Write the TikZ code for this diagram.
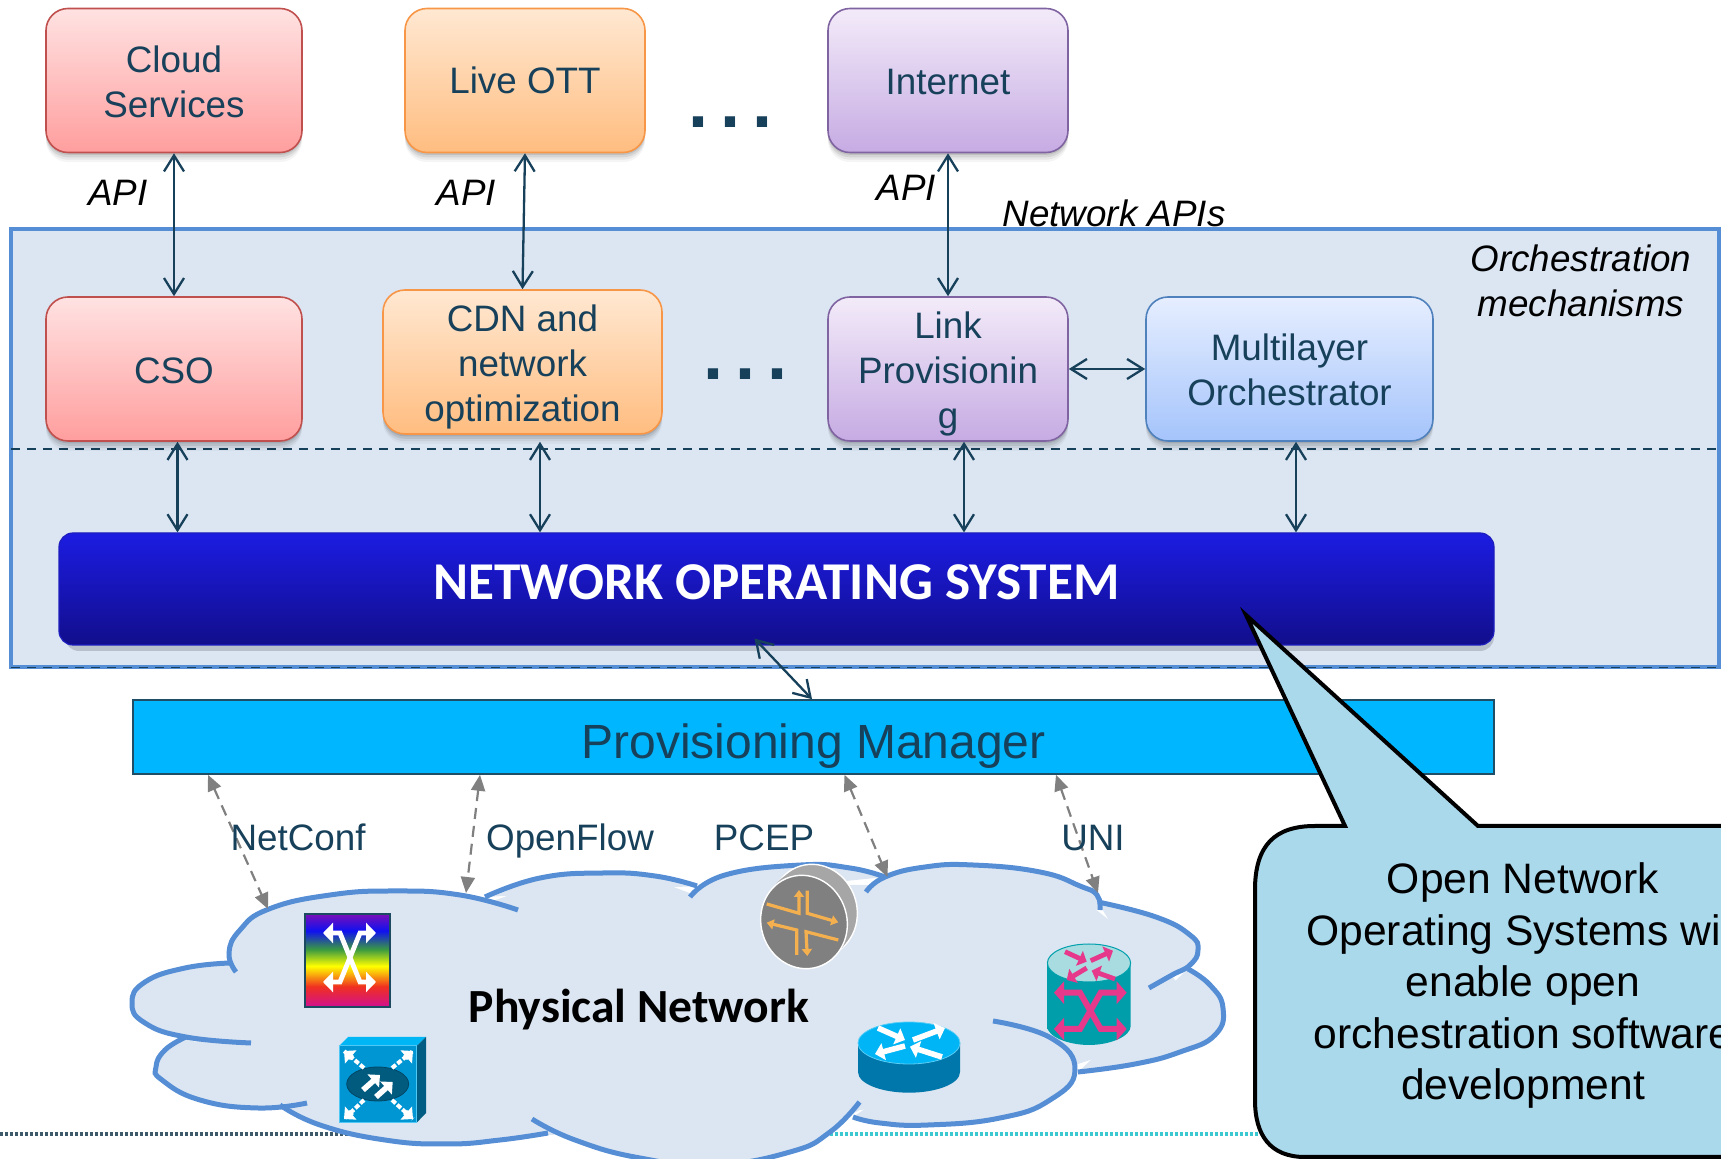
\documentclass[tikz,border=0pt]{standalone}
\usepackage{fontspec}
\setmainfont{Liberation Sans}
\newfontfamily\calib{Carlito}
\usetikzlibrary{arrows.meta,shadows,calc}
\definecolor{ink}{HTML}{17405A}
\definecolor{panel}{HTML}{DCE6F2}
\definecolor{edge}{HTML}{558ED5}
\definecolor{rbA}{HTML}{7A0FB8}
\definecolor{rbB}{HTML}{1010F0}
\definecolor{rbC}{HTML}{3A9A40}
\definecolor{rbD}{HTML}{FFFF00}
\definecolor{rbE}{HTML}{F03020}
\definecolor{rbF}{HTML}{D01090}
\definecolor{pinkish}{HTML}{E6398C}
\definecolor{amber}{HTML}{F4B04F}
\definecolor{redE}{HTML}{C0504D}\definecolor{redT}{HTML}{FFE2E2}\definecolor{redB}{HTML}{FF9E9E}
\definecolor{orE}{HTML}{F79646}\definecolor{orT}{HTML}{FFE8D2}\definecolor{orB}{HTML}{FFBD80}
\definecolor{puE}{HTML}{8064A2}\definecolor{puT}{HTML}{F3EBF9}\definecolor{puB}{HTML}{C6ABE3}
\definecolor{blE}{HTML}{4F81BD}\definecolor{blT}{HTML}{E6EEFF}\definecolor{blB}{HTML}{A5C4FB}
\definecolor{nosE}{HTML}{1E1EBE}\definecolor{nosT}{HTML}{1C1CE2}\definecolor{nosB}{HTML}{120E8C}
\definecolor{nosS}{HTML}{B8C0CC}
\definecolor{pmF}{HTML}{00B7FF}\definecolor{pmE}{HTML}{1F4E66}
\definecolor{dotL}{HTML}{3E5A6A}\definecolor{dotR}{HTML}{3CC8D0}
\definecolor{rbEdge}{HTML}{1C4A60}
\definecolor{boxTop}{HTML}{00B6F5}\definecolor{boxSide}{HTML}{005C82}\definecolor{boxFront}{HTML}{0096D4}\definecolor{boxRim}{HTML}{50C8F5}
\definecolor{boxOval}{HTML}{005B7F}\definecolor{boxOvalE}{HTML}{004664}
\definecolor{discB}{HTML}{A6A6A6}\definecolor{discF}{HTML}{808080}
\definecolor{rtBody}{HTML}{0077AA}\definecolor{rtTop}{HTML}{00B5F5}\definecolor{rtRim}{HTML}{5ACDF5}
\definecolor{tealD}{HTML}{009EAA}\definecolor{tealL}{HTML}{A8DCE0}\definecolor{tealE}{HTML}{00A0AC}
\definecolor{callF}{HTML}{ABD9EC}
\pgfdeclareverticalshading{rainbowshade}{100bp}{color(0bp)=(rbF);color(25bp)=(rbF);color(36bp)=(rbE);color(47bp)=(rbD);color(56bp)=(rbC);color(66bp)=(rbB);color(75bp)=(rbA);color(100bp)=(rbA)}
\newcommand{\topgap}[1]{\rule{0pt}{#1pt}}
\tikzset{
  x=0.5pt,y=-0.5pt,
  softshadow/.style={
    drop shadow={shadow xshift=0pt,shadow yshift=-1.2pt,opacity=.10,fill=black},
    drop shadow={shadow xshift=0pt,shadow yshift=-2.4pt,opacity=.08,fill=black},
    drop shadow={shadow xshift=0pt,shadow yshift=-3.6pt,opacity=.06,fill=black},
    drop shadow={shadow xshift=0pt,shadow yshift=-4.8pt,opacity=.04,fill=black}},
  appbox/.style={rounded corners=11pt,line width=.8pt,minimum width=#1,minimum height=72pt,inner sep=0pt,align=center,text=ink,softshadow,
     font=\fontsize{18.4}{22.5}\selectfont},
  redbox/.style={appbox=128pt,draw=redE,top color=redT,bottom color=redB},
  orangebox/.style={appbox=#1,draw=orE,top color=orT,bottom color=orB},
  purplebox/.style={appbox=120pt,draw=puE,top color=puT,bottom color=puB},
  bluebox/.style={appbox=143.5pt,draw=blE,top color=blT,bottom color=blB},
  dbl/.style={{Straight Barb[length=8pt,width=10pt]}-{Straight Barb[length=8pt,width=10pt]},draw=ink,line width=1.15pt},
  ctl/.style={{Triangle[length=8pt,width=7pt]}-{Triangle[length=8pt,width=7pt]},draw=gray,line width=1.1pt,dash pattern=on 5.5pt off 3.5pt},
  lab/.style={text=ink,inner sep=0pt,anchor=base,font=\fontsize{18.4}{22.5}\selectfont},
  ital/.style={text=black,inner sep=0pt,align=center,font=\fontsize{18.4}{22.5}\selectfont\itshape},
  dots/.style={text=ink,inner sep=0pt,anchor=base,font=\fontsize{36}{36}\selectfont\bfseries},
  cloudfill/.style={fill=panel,draw=none},
  cloudline/.style={draw=edge,line width=2.5pt,fill=none},
  whitex/.style={draw=white,line width=2.4pt,{Triangle[length=5pt,width=10pt]}-{Triangle[length=5pt,width=10pt]}},
  pinkx/.style={draw=pinkish,line width=3pt,{Triangle[length=5pt,width=11pt]}-{Triangle[length=5pt,width=11pt]}},
  minipink/.style={draw=pinkish,line width=2.4pt,-{Triangle[length=4pt,width=8pt]}},
  miniwhite/.style={draw=white,line width=2.8pt,-{Triangle[length=4.5pt,width=8.5pt]}},
  miniorange/.style={draw=amber,line width=1.6pt,-{Triangle[length=3.5pt,width=5pt]}},
}
\newcommand{\lobes}[1]{%
  \path[#1] plot[smooth,tension=.8] coordinates {(236,972)(229,953)(240,930)(269,909)(330,895)(395,891)(460,895)(518,910)};
  \path[#1] plot[smooth,tension=.8] coordinates {(485,897)(540,878)(603,873)(655,876)(697,886)};
  \path[#1] plot[smooth,tension=.8] coordinates {(690,897)(725,875)(801,865)(850,868)(885,877)};
  \path[#1] plot[smooth,tension=.8] coordinates {(866,892)(885,877)(925,867)(973,865)(1040,872)(1080,886)(1097,895)(1100,910)};
  \path[#1] plot[smooth,tension=.8] coordinates {(1098,902)(1156,917)(1190,935)(1198,950)(1190,965)(1172,975)(1149,988)};
  \path[#1] plot[smooth,tension=.8] coordinates {(1188,969)(1210,985)(1223,1008)(1215,1035)(1180,1052)(1135,1064)(1078,1072)};
  \path[#1] plot[smooth,tension=.8] coordinates {(993,1021)(1051,1038)(1075,1070)(1050,1100)(1000,1118)(928,1125)(880,1123)(853,1117)};
  \path[#1] plot[smooth,tension=.8] coordinates {(859.5,1102)(830,1132)(790,1152)(713,1165)(640,1158)(575,1140)(532,1119)};
  \path[#1] plot[smooth,tension=.8] coordinates {(548,1133)(500,1140)(447,1144)(385,1140)(320,1125)(280,1105)};
  \path[#1] plot[smooth,tension=.8] coordinates {(307,1103)(258,1108)(200,1100)(162,1080)(156,1067)(165,1050)(186,1037)};
  \path[#1] plot[smooth,tension=.8] coordinates {(251,1043)(186,1037)(145,1023)(132,1003)(145,982)(185,968)(230,963)};
}
\begin{document}
\begin{tikzpicture}
\useasboundingbox (0,0) rectangle (1721,1159);
\begin{scope}
\clip (0,0) rectangle (1721,1159);

% orchestration frame
\path[fill=panel,draw=edge,line width=2.4pt] (11,229) rectangle (1719,667);
\draw[ink,line width=.8pt,dash pattern=on 4.5pt off 3.5pt] (11,449) -- (1721,449);
\draw[ink,line width=.8pt,dash pattern=on 4.5pt off 3.5pt] (11,667.5) -- (1721,667.5);

% application boxes
\node[redbox] (cloud) at (174,80.5) {\topgap{14.6}Cloud\\Services};
\node[orangebox=120pt] (live) at (525,80.5) {\topgap{13.6}Live OTT};
\node[purplebox] (inet) at (948,80.5) {\topgap{14.3}Internet};
\node[redbox] (cso) at (174,369) {\topgap{14.9}CSO};
\node[orangebox=139.5pt] (cdn) at (522.5,362) {\topgap{18}CDN and\\network\\optimization};
\node[purplebox] (link) at (948,369) {\topgap{18}Link\\Provisionin\\g};
\node[bluebox] (multi) at (1289.5,369) {\topgap{14.4}Multilayer\\Orchestrator};

\node[dots] (dotsA) at (730.5,128) {.\kern6pt.\kern6pt.};
\node[dots] (dotsB) at (745.5,380) {.\kern6pt.\kern6pt.};

% network operating system and provisioning manager
\fill[nosS,rounded corners=7pt] (65,545) rectangle (1494,651);
\node[rounded corners=7pt,minimum width=717.5pt,minimum height=56pt,inner sep=0pt,draw=nosE,line width=.6pt,
      top color=nosT,bottom color=nosB,text=white,
      font=\fontsize{26.6}{30}\selectfont\calib\bfseries] (nos) at (776.5,589) {\raisebox{7pt}{NETWORK OPERATING SYSTEM}};
\node[fill=pmF,draw=pmE,line width=.8pt,minimum width=680.5pt,minimum height=37pt,inner sep=0pt,
      text=ink,font=\fontsize{24}{28}\selectfont] (pm) at (813.5,737) {\topgap{26}Provisioning Manager};

% connectors between boxes
\draw[dbl] (cloud.south) -- (cso.north);
\draw[dbl] (live.south) -- (cdn.north);
\draw[dbl] (inet.south) -- (link.north);
\draw[dbl] (link.east) -- (multi.west);
\draw[dbl] ([xshift=1.75pt]cso.south) -- ([xshift=1.75pt]cso.south |- nos.north);
\draw[dbl] ([xshift=8.75pt]cdn.south |- cso.south) -- ([xshift=8.75pt]cdn.south |- nos.north);
\draw[dbl] ([xshift=8pt]link.south) -- ([xshift=8pt]link.south |- nos.north);
\draw[dbl] ([xshift=3.25pt]multi.south) -- ([xshift=3.25pt]multi.south |- nos.north);
\draw[dbl] ([xshift=-11pt,yshift=3.5pt]nos.south) -- ([xshift=-.75pt]pm.north);

% labels
\node[ital] (apiA) at (118,193) {API};
\node[ital] (apiB) at (466.5,193) {API};
\node[ital] (apiC) at (906.5,188) {API};
\node[ital] (netapi) at (1114,213) {Network APIs};
\node[ital] (orch) at (1581,281) {Orchestration\\mechanisms};

% dotted rule behind the cloud
\draw[dotL,line width=2pt,dash pattern=on 1.5pt off 1pt] (0,1134) -- (400,1134);
\draw[dotR,line width=2pt,dash pattern=on 1.5pt off 1pt] (820,1134) -- (1260,1134);

% physical network cloud
\lobes{cloudfill}
\fill[panel] (240,960)--(300,920)--(490,902)--(530,888)--(660,882)--(695,895)--(730,885)--(880,885)--(1090,905)--(1160,960)--(1190,1000)--(1150,1040)--(1075,1065)--(1060,1090)--(860,1110)--(820,1130)--(540,1135)--(320,1118)--(290,1100)--(200,1050)--(190,1030)--(200,1000)--cycle;
\lobes{cloudline}
\node[inner sep=0pt,text=black,font=\fontsize{23.8}{28}\selectfont\calib\bfseries] (phys) at (639,1010) {Physical Network};

% rainbow switch icon
\path[shading=rainbowshade,draw=rbEdge,line width=1.4pt] (305,914) rectangle (390,1007);
\draw[whitex] (323,933) -- (340,933) -- (360,982) -- (376,982);
\draw[whitex] (376,933) -- (360,933) -- (340,982) -- (323,982);

% blue box icon
\path[fill=boxTop] (339,1046) -- (348,1037) -- (426,1037) -- (416.7,1046) -- cycle;
\path[fill=boxSide] (416.7,1046) -- (426,1037) -- (426,1113) -- (416.7,1122.7) -- cycle;
\path[fill=boxFront,draw=boxRim,line width=.5pt] (339.3,1046) rectangle (416.7,1122.7);
\path[fill=boxOval,draw=boxOvalE,line width=.4pt] (377.7,1084) ellipse [x radius=15.5pt,y radius=8.5pt];
\foreach \ax/\ay/\bx/\by in {364/1068/344/1051,392/1068/413/1051,364/1100/344/1119,392/1100/413/1119}
  \draw[white,line width=2pt,dash pattern=on 2.5pt off 1pt] (\ax,\ay) -- (\bx,\by);
\foreach \bx/\by/\cx/\cy in {344/1051/352/1058,413/1051/405/1058,344/1119/352/1112,413/1119/405/1112}
  \draw[miniwhite] (\cx,\cy) -- (\bx,\by);
\draw[miniwhite] (363,1090) -- (380,1075);
\draw[miniwhite] (376,1097) -- (392.7,1082);

% grey disc icon
\path[fill=discB,draw=white,line width=.7pt,rotate around={17:(814,911)}] (814,911) ellipse [x radius=21.5pt,y radius=23.5pt];
\path[fill=discB,rotate around={17:(809,916)}] (809,916) ellipse [x radius=21.5pt,y radius=23.5pt];
\path[fill=discF,draw=white,line width=.7pt,rotate around={17:(804,922)}] (804,922) ellipse [x radius=21.5pt,y radius=23.5pt];
\draw[miniorange] (766.7,904) -- (799,913.3) -- (799,890);
\draw[miniorange] (807.3,890.7) -- (807.3,913.3) -- (838.3,922.3);
\draw[miniorange] (838.3,940) -- (806,931.7) -- (807.3,956);
\draw[miniorange] (796.7,955) -- (796.7,930) -- (766.7,922.7);

% blue router icon
\path[fill=rtBody] (858,1043) -- (858,1072) .. controls (858,1084) and (882,1092.7) .. (909,1092.7) .. controls (936,1092.7) and (960,1084) .. (960,1072) -- (960,1043) -- cycle;
\path[fill=rtTop,draw=rtRim,line width=.4pt] (909,1043) ellipse [x radius=25.5pt,y radius=10.5pt];
\draw[miniwhite] (878,1028) -- (905,1040);
\draw[miniwhite] (913,1040) -- (945,1028);
\draw[miniwhite] (905,1046) -- (875,1054);
\draw[miniwhite] (942,1057) -- (910,1046.7);

% teal cylinder icon
\path[left color=tealD,middle color=tealL,right color=tealD] (1047,963) -- (1047,1026) .. controls (1047,1036.5) and (1068,1045) .. (1089,1045) .. controls (1110,1045) and (1130.7,1036.5) .. (1130.7,1026) -- (1130.7,963) -- cycle;
\path[fill=tealL,draw=tealE,line width=.5pt] (1089,963) ellipse [x radius=20.8pt,y radius=9.5pt];
\draw[minipink] (1065,951.7) -- (1086.7,961.7);
\draw[minipink] (1090.7,960.7) -- (1113,950.7);
\draw[minipink] (1086.7,968) -- (1066.7,980);
\draw[minipink] (1115,979) -- (1091.7,970.7);
\draw[pinkx] (1054,992.7) -- (1080,992.7) -- (1100.7,1029) -- (1126.7,1029);
\draw[pinkx] (1126.7,992.7) -- (1100.7,992.7) -- (1080,1029) -- (1054,1029);

% control-channel connectors
\coordinate (endNet) at (268,909);
\coordinate (endFlow) at (466,893);
\coordinate (endPcep) at (887.5,877);
\coordinate (endUni) at (1098,893);
\coordinate (topNet) at (208,774);
\coordinate (topFlow) at (480,774);
\coordinate (topPcep) at (844.5,774);
\coordinate (topUni) at (1056,774);
\draw[ctl] (topNet |- pm.south) -- (endNet);
\draw[ctl] (topFlow |- pm.south) -- (endFlow);
\draw[ctl] (topPcep |- pm.south) -- (endPcep);
\draw[ctl] (topUni |- pm.south) -- (endUni);
\node[lab] (netconf) at (298,851) {NetConf};
\node[lab] (openflow) at (570,851) {OpenFlow};
\node[lab] (pcep) at (764,851) {PCEP};
\node[lab] (uni) at (1093,851) {UNI};

% callout
\path[fill=callF,draw=black,line width=2pt,miter limit=20]
  (1345,826) -- (1315,826) .. controls (1275,826) and (1255,845) .. (1255,890) -- (1255,1100)
  .. controls (1255,1135) and (1270,1157) .. (1305,1157) -- (1800,1157) -- (1800,826) -- (1478,826) -- (1246,615) -- cycle;
\node[inner sep=0pt,align=center,text=black,font=\fontsize{21.3}{25.75}\selectfont] (calltext) at (1523,985.5) {Open Network\\Operating Systems will\\enable open\\orchestration software\\development};
\end{scope}
\end{tikzpicture}
\end{document}
